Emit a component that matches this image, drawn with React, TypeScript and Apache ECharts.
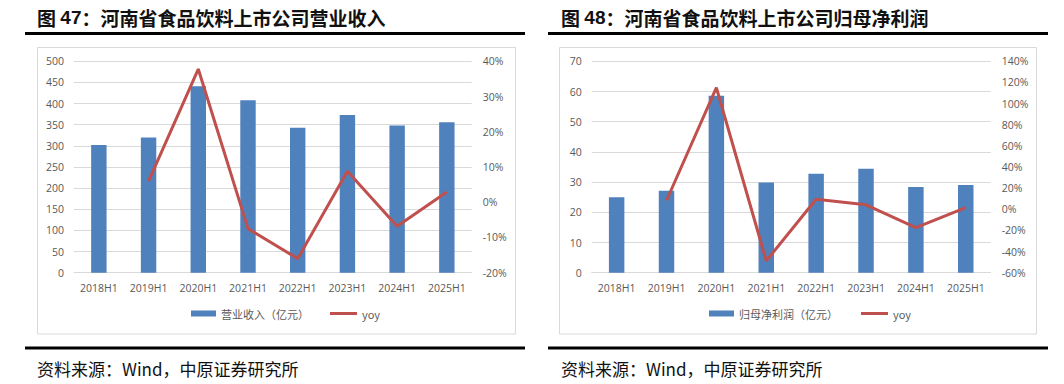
import React, { useEffect, useRef } from "react";
import * as echarts from "echarts";

const categories = ["2018H1", "2019H1", "2020H1", "2021H1", "2022H1", "2023H1", "2024H1", "2025H1"];
const revenue = [302, 320, 441, 408, 343, 373, 348, 356];
const revenueYoy = [null, 6.0, 37.8, -7.5, -16.0, 8.8, -6.8, 2.9];
const profit = [25.0, 27.1, 58.6, 29.9, 32.8, 34.4, 28.4, 29.0];
const profitYoy = [null, 8.3, 115, -48.8, 9.5, 4.2, -17.3, 1.6];

const leftTitleNum = "47";
const leftTitleText = "河南省食品饮料上市公司营业收入";
const rightTitleNum = "48";
const rightTitleText = "河南省食品饮料上市公司归母净利润";
const revenueName = "营业收入（亿元）";
const profitName = "归母净利润（亿元）";
const yoyName = "yoy";
const sourceText = "资料来源：Wind，中原证券研究所";

const BLUE = "#4F81BD";
const RED = "#C0504D";
const GRID = "#D9D9D9";
const LABEL = "#595959";
const LATIN = "'Open Sans', 'Noto Sans CJK SC', sans-serif";
const CJK = "'Noto Sans CJK SC', sans-serif";

export default function App() {
  const ref = useRef<HTMLDivElement>(null);
  useEffect(() => {
    if (!ref.current) return;
    const chart = echarts.init(ref.current, null, { renderer: "svg" });

    const axisLabel = { color: LABEL, fontSize: 10.5, fontFamily: LATIN };
    const xAxisBase = (gridIndex: number) => ({
      type: "category",
      gridIndex,
      data: categories,
      axisLine: { show: true, lineStyle: { color: GRID, width: 1 } },
      axisTick: { show: false },
      axisLabel: { ...axisLabel, margin: 10, interval: 0 },
    });

    const titleText = (x: number, num: string, text: string) => ({
      type: "text",
      x,
      y: 17,
      style: {
        text: `{a|图 }{b|${num}}{a|：${text}}`,
        rich: {
          a: { fontSize: 19, fontFamily: CJK, fill: "#111", fontWeight: "bold" },
          b: { fontSize: 19, fontFamily: "'Liberation Sans', Arial, sans-serif", fill: "#111", fontWeight: "bold" },
        },
        verticalAlign: "middle",
        align: "left",
      },
    });

    const rule = (x1: number, x2: number, y: number) => ({
      type: "line",
      shape: { x1, y1: y, x2, y2: y },
      style: { stroke: "#000", lineWidth: 3 },
    });

    const box = (x: number, w: number) => ({
      type: "rect",
      shape: { x, y: 47.5, width: w, height: 286.5 },
      style: { fill: "none", stroke: GRID, lineWidth: 1 },
    });

    const source = (x: number) => ({
      type: "text",
      x,
      y: 368,
      style: {
        text: sourceText,
        fontSize: 17,
        fontFamily: CJK,
        fill: "#111",
        verticalAlign: "middle",
        align: "left",
      },
    });

    const legendText = { color: LABEL, fontSize: 11, fontFamily: CJK };
    const barLegend = (left: number, name: string) => ({
      orient: "horizontal",
      top: 303,
      left,
      itemWidth: 25,
      itemHeight: 6,
      itemGap: 20,
      textStyle: legendText,
      data: [{ name, icon: "rect" }],
    });
    const lineLegend = (left: number) => ({
      orient: "horizontal",
      top: 303,
      left,
      itemWidth: 27,
      itemHeight: 3,
      itemGap: 20,
      textStyle: legendText,
      data: [{ name: yoyName, icon: "rect" }],
    });

    chart.setOption({
      animation: false,
      backgroundColor: "#fff",
      grid: [
        { left: 74, right: 592.3, top: 61.3, bottom: 111.3, containLabel: false },
        { left: 591.7, right: 73.3, top: 61.3, bottom: 111.3, containLabel: false },
      ],
      legend: [
        barLegend(186, revenueName),
        lineLegend(325),
        barLegend(704, profitName),
        lineLegend(856),
      ],
      xAxis: [xAxisBase(0), xAxisBase(1)],
      yAxis: [
        {
          type: "value", gridIndex: 0, min: 0, max: 500, interval: 50,
          axisLine: { show: false }, axisTick: { show: false },
          axisLabel: { ...axisLabel, margin: 10 },
          splitLine: { show: true, lineStyle: { color: GRID, width: 1 } },
        },
        {
          type: "value", gridIndex: 0, position: "right", min: -20, max: 40, interval: 10,
          axisLine: { show: false }, axisTick: { show: false },
          axisLabel: { ...axisLabel, margin: 11, formatter: "{value}%" },
          splitLine: { show: false },
        },
        {
          type: "value", gridIndex: 1, min: 0, max: 70, interval: 10,
          axisLine: { show: false }, axisTick: { show: false },
          axisLabel: { ...axisLabel, margin: 10 },
          splitLine: { show: true, lineStyle: { color: GRID, width: 1 } },
        },
        {
          type: "value", gridIndex: 1, position: "right", min: -60, max: 140, interval: 20,
          axisLine: { show: false }, axisTick: { show: false },
          axisLabel: { ...axisLabel, margin: 11, formatter: "{value}%" },
          splitLine: { show: false },
        },
      ],
      series: [
        {
          name: revenueName, type: "bar", xAxisIndex: 0, yAxisIndex: 0,
          data: revenue, barWidth: "31%", itemStyle: { color: BLUE },
        },
        {
          name: yoyName, type: "line", xAxisIndex: 0, yAxisIndex: 1,
          data: revenueYoy, symbol: "none", connectNulls: false,
          lineStyle: { color: RED, width: 3 }, itemStyle: { color: RED },
        },
        {
          name: profitName, type: "bar", xAxisIndex: 1, yAxisIndex: 2,
          data: profit, barWidth: "31%", itemStyle: { color: BLUE },
        },
        {
          name: yoyName, type: "line", xAxisIndex: 1, yAxisIndex: 3,
          data: profitYoy, symbol: "none", connectNulls: false,
          lineStyle: { color: RED, width: 3 }, itemStyle: { color: RED },
        },
      ],
      graphic: [
        titleText(37, leftTitleNum, leftTitleText),
        rule(25, 525, 33.5),
        box(37.5, 478),
        rule(25, 525, 348),
        source(37),
        titleText(561, rightTitleNum, rightTitleText),
        rule(548, 1048, 33.5),
        box(559.5, 477),
        rule(548, 1048, 348),
        source(561),
      ],
    });

    return () => chart.dispose();
  }, []);

  return (
    <div
      ref={ref}
      style={{ position: "absolute", left: 0, top: 0, width: 1064, height: 384, background: "#fff" }}
    />
  );
}
